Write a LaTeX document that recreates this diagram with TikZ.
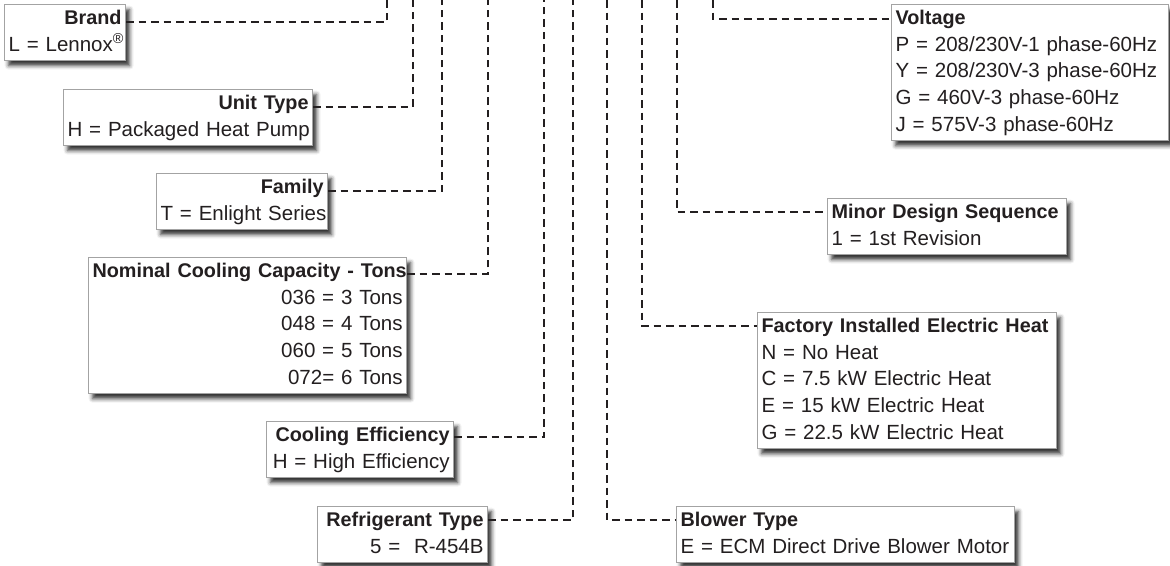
\documentclass[tikz,border=0pt]{standalone}
\usepackage{fontspec}
\setmainfont{Liberation Sans}
\usetikzlibrary{calc,shadows.blur}
\definecolor{ink}{HTML}{231F20}
\definecolor{frame}{HTML}{A3A3A3}
\newcommand{\hd}[1]{\mbox{\fontsize{19.8}{26.7}\selectfont\bfseries #1}}
\newcommand{\row}[1]{\mbox{#1}}

\begin{document}
\begin{tikzpicture}[x=1pt,y=-1pt,
   every node/.style={font=\fontsize{20.5}{26.7}\selectfont,text=ink},
   codebox/.style={draw=frame,line width=1.2pt,fill=white,inner xsep=4pt,inner ysep=1.3pt,anchor=north west,
      blur shadow={shadow xshift=4pt,shadow yshift=-5pt,shadow blur radius=4pt,shadow opacity=80}},
   leftbox/.style={codebox,align=right},
   rightbox/.style={codebox,align=left},
   lead/.style={draw=ink,line width=2.6pt,dash pattern=on 7.5pt off 5pt}]
\useasboundingbox (0,0) rectangle (1170,565);

\node[leftbox,text width=113pt] (brand) at (4,4) {\strut\hd{Brand}\\\row{L = Lennox\textsuperscript{®}}\strut};
\node[leftbox,text width=241pt] (unit) at (63,89) {\strut\hd{Unit Type}\\\row{H = Packaged Heat Pump}\strut};
\node[leftbox,text width=163pt] (family) at (156,173) {\strut\hd{Family}\\\row{T = Enlight Series}\strut};
\node[leftbox,text width=310pt] (tons) at (88,257) {\strut\hd{Nominal Cooling Capacity - Tons}\\\row{036 = 3 Tons}\\\row{048 = 4 Tons}\\\row{060 = 5 Tons}\\\row{072= 6 Tons}\strut};
\node[leftbox,text width=179pt] (effic) at (266,421) {\strut\hd{Cooling Efficiency}\\\row{H = High Efficiency}\strut};
\node[leftbox,text width=162pt] (refrig) at (317,506) {\strut\hd{Refrigerant Type}\\\row{5 =\ \ R-454B}\strut};

\node[rightbox,text width=269pt] (volt) at (891,4) {\strut\hd{Voltage}\\\row{P = 208/230V-1 phase-60Hz}\\\row{Y = 208/230V-3 phase-60Hz}\\\row{G = 460V-3 phase-60Hz}\\\row{J = 575V-3 phase-60Hz}\strut};
\node[rightbox,text width=231pt] (minor) at (827,198) {\strut\hd{Minor Design Sequence}\\\row{1 = 1st Revision}\strut};
\node[rightbox,text width=291pt] (heat) at (757,312) {\strut\hd{Factory Installed Electric Heat}\\\row{N = No Heat}\\\row{C = 7.5 kW Electric Heat}\\\row{E = 15 kW Electric Heat}\\\row{G = 22.5 kW Electric Heat}\strut};
\node[rightbox,text width=330pt] (blower) at (676,506) {\strut\hd{Blower Type}\\\row{E = ECM Direct Drive Blower Motor}\strut};

\coordinate (brandtop) at (387,0);
\coordinate (unittop) at (413,0);
\coordinate (familytop) at (442,0);
\coordinate (tonstop) at (488,0);
\coordinate (effictop) at (544,0);
\coordinate (refrigtop) at (573,0);
\coordinate (blowertop) at (607,0);
\coordinate (heattop) at (642,0);
\coordinate (minortop) at (677,0);
\coordinate (volttop) at (713,0);

\draw[lead] ([yshift=-18pt]brand.north east) -| (brandtop);
\draw[lead] ([yshift=-18pt]unit.north east) -| (unittop);
\draw[lead] ([yshift=-18pt]family.north east) -| (familytop);
\draw[lead] ([yshift=-17pt]tons.north east) -| (tonstop);
\draw[lead] ([yshift=-16pt]effic.north east) -| (effictop);
\draw[lead] ([yshift=-14pt]refrig.north east) -| (refrigtop);
\draw[lead] (blowertop) |- ([yshift=-14pt]blower.north west);
\draw[lead] (heattop) |- ([yshift=-14pt]heat.north west);
\draw[lead] (minortop) |- ([yshift=-14pt]minor.north west);
\draw[lead] (volttop) |- ([yshift=-15pt]volt.north west);
\end{tikzpicture}
\end{document}
